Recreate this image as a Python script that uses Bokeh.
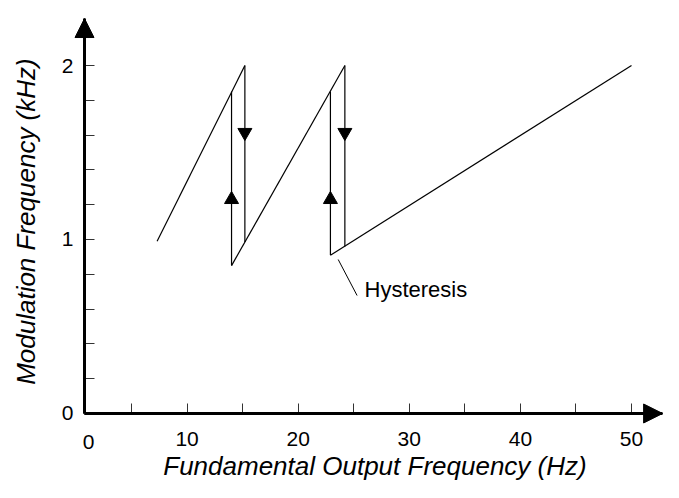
import math
from bokeh.plotting import figure
from bokeh.models import Range1d, FixedTicker, Arrow, NormalHead, Label
from bokeh.embed import file_html
from bokeh.resources import INLINE

# ---- data (Hz, kHz) ----
ramp_start_hz = [7.3, 14.0, 22.9]
ramp_start_khz = [0.99, 0.85, 0.91]
ramp_end_hz = [15.2, 24.2, 50.0]
ramp_end_khz = [2.0, 2.0, 2.0]

jump_up_hz = [14.0, 22.9]
jump_up_from_khz = [0.85, 0.91]
jump_up_to_khz = [1.85, 1.85]

jump_down_hz = [15.2, 24.2]
jump_down_from_khz = [2.0, 2.0]
jump_down_to_khz = [0.985, 0.96]

up_marker_khz = [1.23, 1.23]
down_marker_khz = [1.615, 1.615]

x_tick_values = [10, 20, 30, 40, 50]
x_minor_values = [5, 15, 25, 35, 45]
y_tick_values = [0, 1, 2]
y_minor_values = [0.2, 0.4, 0.6, 0.8, 1.2, 1.4, 1.6, 1.8]

x_title = "Fundamental Output Frequency (Hz)"
y_title = "Modulation Frequency (kHz)"
note_text = "Hysteresis"
origin_label = "0"

# annotation anchors (data coords)
note_leader_x = [23.6, 25.3]
note_leader_y = [0.885, 0.678]
note_pos = (25.97, 0.713)
origin_label_pos = (1.125, -0.161)
x_title_pos = (26.91, -0.389)
y_title_pos = (-4.545, 1.103)

# view window (data coords) and axis extents
X0, X1 = -6.796, 52.88
Y0, Y1 = -0.3966, 2.3736
AXIS_X = 0.765        # where the vertical axis stands
X_ARROW_END = 52.8
Y_ARROW_END = 2.27

FONT = "Liberation Sans"

p = figure(width=663, height=482, x_range=Range1d(X0, X1), y_range=Range1d(Y0, Y1),
           output_backend="svg", toolbar_location=None,
           min_border_left=0, min_border_right=0, min_border_top=0, min_border_bottom=0)
p.grid.visible = False
p.outline_line_color = None
p.background_fill_color = "white"
p.border_fill_color = "white"

p.xaxis.fixed_location = 0
p.yaxis.fixed_location = AXIS_X
p.xaxis.bounds = (AXIS_X, X_ARROW_END)
p.yaxis.bounds = (0, Y_ARROW_END)

for ax, ticks, minors in ((p.xaxis, x_tick_values, x_minor_values),
                          (p.yaxis, y_tick_values, y_minor_values)):
    ax.ticker = FixedTicker(ticks=ticks, minor_ticks=minors)
    ax.axis_line_width = 3
    ax.axis_line_color = "black"
    ax.major_tick_in = 10
    ax.major_tick_out = 0
    ax.minor_tick_in = 10
    ax.minor_tick_out = 0
    ax.major_tick_line_color = "#333333"
    ax.minor_tick_line_color = "#333333"
    ax.major_tick_line_width = 1
    ax.minor_tick_line_width = 1
    ax.major_label_text_font = FONT
    ax.major_label_text_font_size = "21px"
    ax.major_label_text_color = "black"

p.xaxis.major_label_standoff = 19
p.yaxis.major_label_standoff = 11

# curves
p.segment(x0=ramp_start_hz, y0=ramp_start_khz, x1=ramp_end_hz, y1=ramp_end_khz,
          line_color="black", line_width=1.2)
p.segment(x0=jump_up_hz, y0=jump_up_from_khz, x1=jump_up_hz, y1=jump_up_to_khz,
          line_color="black", line_width=1.2)
p.segment(x0=jump_down_hz, y0=jump_down_from_khz, x1=jump_down_hz, y1=jump_down_to_khz,
          line_color="black", line_width=1.2)

p.scatter(x=jump_up_hz, y=up_marker_khz, marker="triangle", size=14,
          fill_color="black", line_color="black")
p.scatter(x=jump_down_hz, y=down_marker_khz, marker="inverted_triangle", size=14,
          fill_color="black", line_color="black")

# hysteresis note
p.line(x=note_leader_x, y=note_leader_y, line_color="black", line_width=1)
p.add_layout(Label(x=note_pos[0], y=note_pos[1], text=note_text, text_font=FONT,
                   text_font_size="22px", text_color="black",
                   text_align="left", text_baseline="middle"))

# axis arrows
p.add_layout(Arrow(end=NormalHead(size=19, fill_color="black", line_color="black", line_width=1),
                   x_start=AXIS_X, y_start=0, x_end=X_ARROW_END, y_end=0,
                   line_color="black", line_width=3))
p.add_layout(Arrow(end=NormalHead(size=19, fill_color="black", line_color="black", line_width=1),
                   x_start=AXIS_X, y_start=0, x_end=AXIS_X, y_end=Y_ARROW_END,
                   line_color="black", line_width=3))

# origin label on x axis
p.add_layout(Label(x=origin_label_pos[0], y=origin_label_pos[1], text=origin_label,
                   text_font=FONT, text_font_size="21px", text_color="black",
                   text_align="center", text_baseline="middle"))

# axis titles
p.add_layout(Label(x=x_title_pos[0], y=x_title_pos[1], text=x_title, text_font=FONT,
                   text_font_size="26px", text_font_style="italic", text_color="black",
                   text_align="center", text_baseline="bottom"))
p.add_layout(Label(x=y_title_pos[0], y=y_title_pos[1], text=y_title, text_font=FONT,
                   text_font_size="26px", text_font_style="italic", text_color="black",
                   text_align="center", text_baseline="middle", angle=math.pi / 2))

open("out.html", "w").write(file_html(p, INLINE))
